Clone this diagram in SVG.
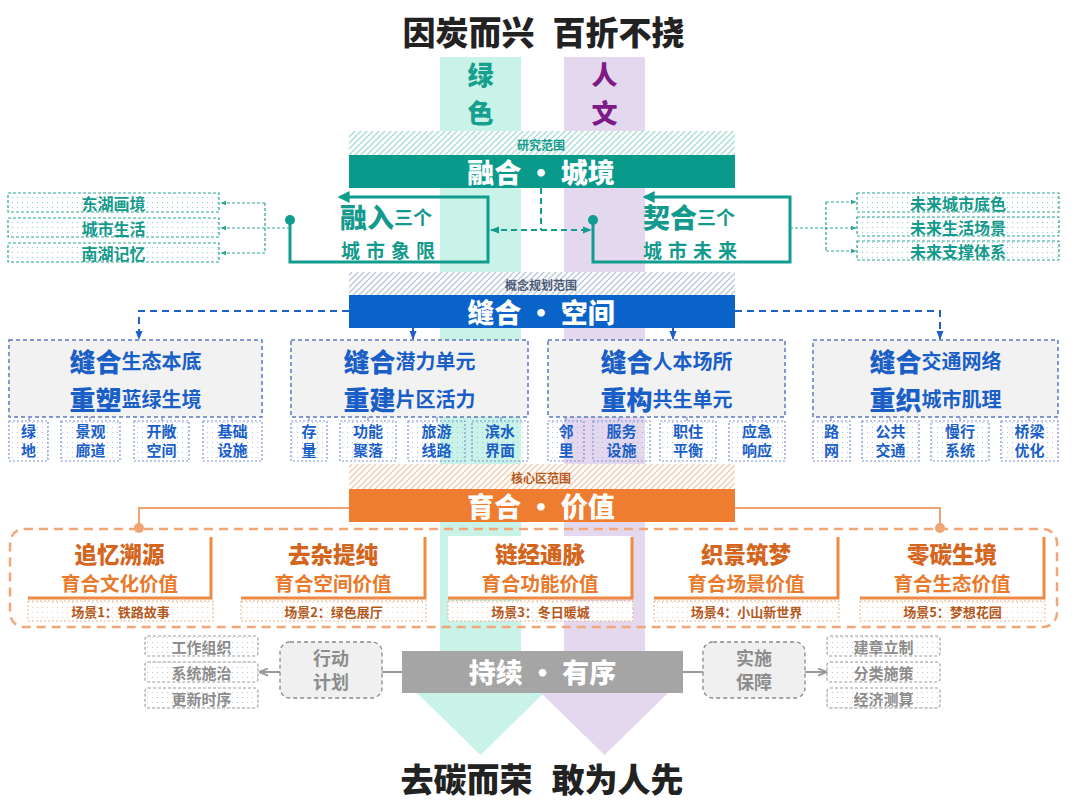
<svg xmlns="http://www.w3.org/2000/svg" width="1080" height="809" viewBox="0 0 1080 809">
<style>
.t{font-family:"Noto Sans CJK SC","Noto Sans",sans-serif;}
.c{text-anchor:middle;dominant-baseline:central;}
.h{font-weight:900;}
.b{font-weight:700;}
.bar{fill:#fff;font-size:27px;font-weight:900;}
.teal{fill:#149a8c;}
.blue{fill:#1a5fc8;}
.grey{fill:#8c8c8c;}
.big{font-size:26px;font-weight:900;}
.sm{font-size:20px;font-weight:700;}
.otitle{fill:#d4651d;font-size:22.5px;font-weight:900;}
.osub{fill:#e9792b;font-size:19.5px;font-weight:700;}
.oscene{fill:#b5581c;font-size:13px;font-weight:700;}
.tlist{fill:url(#dotsTeal);stroke:#2aa596;stroke-width:1.2;stroke-dasharray:3 2;}
.bmain{fill:#f2f2f2;stroke:#5b78c6;stroke-width:1.5;stroke-dasharray:4 3;}
.bsub{fill:url(#dotsBlue);stroke:#7d93d0;stroke-width:1.2;stroke-dasharray:2 2;}
.tick{stroke:#7d93d0;stroke-width:1.2;}
.oscn{fill:url(#dotsOrange);stroke:#e7b48f;stroke-width:1;stroke-dasharray:2 2;}
.card{fill:#fff;}
.cl{fill:none;stroke:#ef8a45;stroke-width:3;}
.glist{fill:url(#dotsGrey);stroke:#9a9a9a;stroke-width:1.1;stroke-dasharray:3 2;}
.gbox{fill:#f0f0f0;stroke:#8a8a8a;stroke-width:1.3;stroke-dasharray:4 3;}
.sub{font-size:15px;font-weight:700;fill:#1a5fc8;text-anchor:middle;}
</style>
<defs>
<pattern id="hatchTeal" patternUnits="userSpaceOnUse" width="6" height="6">
<rect width="6" height="6" fill="#fff"/>
<path d="M-1,1 l2,-2 M0,6 l6,-6 M5,7 l2,-2" stroke="#a6dcd4" stroke-width="1.3"/>
</pattern>
<pattern id="hatchBlue" patternUnits="userSpaceOnUse" width="6" height="6">
<rect width="6" height="6" fill="#fff"/>
<path d="M-1,1 l2,-2 M0,6 l6,-6 M5,7 l2,-2" stroke="#b9c6d8" stroke-width="1.3"/>
</pattern>
<pattern id="hatchOrange" patternUnits="userSpaceOnUse" width="6" height="6">
<rect width="6" height="6" fill="#fff"/>
<path d="M-1,1 l2,-2 M0,6 l6,-6 M5,7 l2,-2" stroke="#f3c9a8" stroke-width="1.3"/>
</pattern>
<pattern id="dotsTeal" patternUnits="userSpaceOnUse" width="5" height="5">
<rect width="5" height="5" fill="#fff"/>
<circle cx="2.5" cy="2.5" r="0.6" fill="#7cc8bd"/>
</pattern>
<pattern id="dotsBlue" patternUnits="userSpaceOnUse" width="5" height="5">
<circle cx="2.5" cy="2.5" r="0.6" fill="#a9b8e0"/>
</pattern>
<pattern id="dotsOrange" patternUnits="userSpaceOnUse" width="5" height="5">
<rect width="5" height="5" fill="#fff"/>
<circle cx="2.5" cy="2.5" r="0.6" fill="#efc3a3"/>
</pattern>
<pattern id="dotsGrey" patternUnits="userSpaceOnUse" width="5" height="5">
<rect width="5" height="5" fill="#fff"/>
<circle cx="2.5" cy="2.5" r="0.6" fill="#c4c4c4"/>
</pattern>
<marker id="aTealBig" viewBox="0 0 10 10" refX="8" refY="5" markerUnits="userSpaceOnUse" markerWidth="12" markerHeight="12" orient="auto">
<path d="M0,0 L10,5 L0,10 z" fill="#109c8e"/>
</marker>
<marker id="aTeal" viewBox="0 0 10 10" refX="9" refY="5" markerUnits="userSpaceOnUse" markerWidth="9" markerHeight="9" orient="auto-start-reverse">
<path d="M0,1 L10,5 L0,9 z" fill="#109c8e"/>
</marker>
<marker id="aTealS" viewBox="0 0 10 10" refX="9" refY="5" markerUnits="userSpaceOnUse" markerWidth="6" markerHeight="6" orient="auto">
<path d="M0,1 L10,5 L0,9 z" fill="#2aa596"/>
</marker>
<marker id="aBlue" viewBox="0 0 10 10" refX="9" refY="5" markerUnits="userSpaceOnUse" markerWidth="9" markerHeight="9" orient="auto">
<path d="M0,1 L10,5 L0,9 z" fill="#1f5fc6"/>
</marker>
<marker id="aGrey" viewBox="0 0 10 10" refX="9" refY="5" markerUnits="userSpaceOnUse" markerWidth="9" markerHeight="9" orient="auto">
<path d="M0,1 L10,5 L0,9" fill="none" stroke="#9a9a9a" stroke-width="2"/>
</marker>
</defs>

<rect width="1080" height="809" fill="#fff"/>

<g id="columns">
<rect x="440" y="57" width="81" height="640" fill="#c9f3e9"/>
<polygon points="416,692 545,692 480.5,755" fill="#c9f3e9"/>
<rect x="564" y="57" width="81" height="640" fill="#e4d8ee"/>
<polygon points="540,692 669,692 604.5,755" fill="#e4d8ee"/>
<text class="t c h" x="480.5" y="73" font-size="26" fill="#17a08f">绿</text>
<text class="t c h" x="480.5" y="111" font-size="26" fill="#17a08f">色</text>
<text class="t c h" x="604.5" y="73" font-size="26" fill="#7d1a86">人</text>
<text class="t c h" x="604.5" y="111" font-size="26" fill="#7d1a86">文</text>
</g>

<g id="title-top">
<text class="t c h" x="468.5" y="31" font-size="33" fill="#222">因炭而兴</text>
<text class="t c h" x="618.5" y="31" font-size="33" fill="#222">百折不挠</text>
</g>

<g id="title-bottom">
<text class="t c h" x="466.5" y="778" font-size="33" fill="#222">去碳而荣</text>
<text class="t c h" x="617.5" y="778" font-size="33" fill="#222">敢为人先</text>
</g>

<g id="connectors">
<path d="M290,220 V262 H488 V197 H340" fill="none" stroke="#109c8e" stroke-width="3" marker-end="url(#aTealBig)"/>
<circle cx="290" cy="220" r="5" fill="#109c8e"/>
<path d="M593,220 V262 H790 V197 H645" fill="none" stroke="#109c8e" stroke-width="3" marker-end="url(#aTealBig)"/>
<circle cx="593" cy="220" r="5" fill="#109c8e"/>
<path d="M541,188 V230" fill="none" stroke="#109c8e" stroke-width="2" stroke-dasharray="6 4"/>
<path d="M491,230 H591" fill="none" stroke="#109c8e" stroke-width="2" stroke-dasharray="6 4" marker-start="url(#aTeal)" marker-end="url(#aTeal)"/>
<g fill="none" stroke="#2aa596" stroke-width="1.2" stroke-dasharray="3 2">
<path d="M290,228 H221" marker-end="url(#aTealS)"/>
<path d="M265,203 V253"/>
<path d="M265,203 H221" marker-end="url(#aTealS)"/>
<path d="M265,253 H221" marker-end="url(#aTealS)"/>
<path d="M790,228 H856" marker-end="url(#aTealS)"/>
<path d="M826,202 V251"/>
<path d="M826,202 H856" marker-end="url(#aTealS)"/>
<path d="M826,251 H856" marker-end="url(#aTealS)"/>
</g>
<g fill="none" stroke="#1f5fc6" stroke-width="2">
<path d="M349,311 H139 V339" stroke-dasharray="7 5" marker-end="url(#aBlue)"/>
<path d="M735,311 H940 V339" stroke-dasharray="7 5" marker-end="url(#aBlue)"/>
<path d="M413,328 V339" marker-end="url(#aBlue)"/>
<path d="M673,328 V339" marker-end="url(#aBlue)"/>
</g>
<g fill="none" stroke="#f0a272" stroke-width="2">
<path d="M349,508 H139 V528"/>
<path d="M735,508 H940 V528"/>
</g>
<circle cx="139" cy="528" r="5" fill="#f0a272"/>
<circle cx="940" cy="528" r="5" fill="#f0a272"/>
<g fill="none" stroke="#9a9a9a" stroke-width="2">
<path d="M402,672 H382"/>
<path d="M683,672 H703"/>
<path d="M280,672 H260" marker-end="url(#aGrey)"/>
<path d="M805,672 H826" marker-end="url(#aGrey)"/>
</g>
</g>

<g id="teal-section">
<rect x="349" y="131" width="386" height="24" fill="url(#hatchTeal)"/>
<text class="t c b" x="541" y="144" font-size="12" fill="#149a8c">研究范围</text>
<rect x="349" y="155" width="386" height="33" fill="#0a9a8c"/>
<text class="t c bar" x="541" y="171.5">融合 · 城境</text>
</g>

<g id="node-rongru">
<text class="t teal" x="340" y="215.5" dominant-baseline="central"><tspan font-size="27" font-weight="900">融入</tspan><tspan font-size="19" font-weight="700">三个</tspan></text>
<text class="t teal b" x="341" y="249" dominant-baseline="central" font-size="19" letter-spacing="6">城市象限</text>
</g>
<g id="node-qihe">
<text class="t teal" x="643" y="215.5" dominant-baseline="central"><tspan font-size="27" font-weight="900">契合</tspan><tspan font-size="19" font-weight="700">三个</tspan></text>
<text class="t teal b" x="643" y="249" dominant-baseline="central" font-size="19" letter-spacing="6">城市未来</text>
</g>

<g id="list-left">
<rect class="tlist" x="8" y="193" width="211" height="19"/>
<rect class="tlist" x="8" y="218" width="211" height="19"/>
<rect class="tlist" x="8" y="243" width="211" height="19"/>
<text class="t c b teal" x="113.5" y="202.5" font-size="16">东湖画境</text>
<text class="t c b teal" x="113.5" y="227.5" font-size="16">城市生活</text>
<text class="t c b teal" x="113.5" y="252.5" font-size="16">南湖记忆</text>
</g>
<g id="list-right">
<rect class="tlist" x="857" y="193" width="202" height="19"/>
<rect class="tlist" x="857" y="217" width="202" height="19"/>
<rect class="tlist" x="857" y="241" width="202" height="19"/>
<text class="t c b teal" x="958" y="202.5" font-size="16">未来城市底色</text>
<text class="t c b teal" x="958" y="226.5" font-size="16">未来生活场景</text>
<text class="t c b teal" x="958" y="250.5" font-size="16">未来支撑体系</text>
</g>

<g id="blue-section">
<rect x="349" y="272" width="386" height="23" fill="url(#hatchBlue)"/>
<text class="t c b" x="541" y="284" font-size="12" fill="#4d5b78">概念规划范围</text>
<rect x="349" y="295" width="386" height="33" fill="#0a63c9"/>
<text class="t c bar" x="541" y="311.5">缝合 · 空间</text>
</g>

<g id="node-blue-1">
<rect class="bmain" x="9" y="340" width="253" height="77"/>
<text class="t c blue" x="135.5" y="359.5"><tspan class="big">缝合</tspan><tspan class="sm">生态本底</tspan></text>
<text class="t c blue" x="135.5" y="397.5"><tspan class="big">重塑</tspan><tspan class="sm">蓝绿生境</tspan></text>
<path class="tick" d="M29,417 V421 M90,417 V421 M162,417 V421 M232,417 V421"/>
<rect class="bsub" x="9" y="421" width="39" height="40"/>
<rect class="bsub" x="61" y="421" width="59" height="40"/>
<rect class="bsub" x="134" y="421" width="55" height="40"/>
<rect class="bsub" x="203" y="421" width="59" height="40"/>
<g class="t">
<text class="sub"><tspan x="28.5" y="437">绿</tspan><tspan x="28.5" y="456">地</tspan></text>
<text class="sub"><tspan x="90.5" y="437">景观</tspan><tspan x="90.5" y="456">廊道</tspan></text>
<text class="sub"><tspan x="161.5" y="437">开敞</tspan><tspan x="161.5" y="456">空间</tspan></text>
<text class="sub"><tspan x="232.5" y="437">基础</tspan><tspan x="232.5" y="456">设施</tspan></text>
</g>
</g>

<g id="node-blue-2">
<rect class="bmain" x="291" y="340" width="237" height="77"/>
<text class="t c blue" x="409.5" y="359.5"><tspan class="big">缝合</tspan><tspan class="sm">潜力单元</tspan></text>
<text class="t c blue" x="409.5" y="397.5"><tspan class="big">重建</tspan><tspan class="sm">片区活力</tspan></text>
<path class="tick" d="M309,417 V421 M368,417 V421 M437,417 V421 M501,417 V421"/>
<rect class="bsub" x="291" y="421" width="36" height="40"/>
<rect class="bsub" x="340" y="421" width="56" height="40"/>
<rect class="bsub" x="408" y="421" width="57" height="40"/>
<rect class="bsub" x="472" y="421" width="56" height="40"/>
<g class="t">
<text class="sub"><tspan x="309" y="437">存</tspan><tspan x="309" y="456">量</tspan></text>
<text class="sub"><tspan x="368" y="437">功能</tspan><tspan x="368" y="456">聚落</tspan></text>
<text class="sub"><tspan x="436.5" y="437">旅游</tspan><tspan x="436.5" y="456">线路</tspan></text>
<text class="sub"><tspan x="500" y="437">滨水</tspan><tspan x="500" y="456">界面</tspan></text>
</g>
</g>

<g id="node-blue-3">
<rect class="bmain" x="548" y="340" width="237" height="77"/>
<text class="t c blue" x="666.5" y="359.5"><tspan class="big">缝合</tspan><tspan class="sm">人本场所</tspan></text>
<text class="t c blue" x="666.5" y="397.5"><tspan class="big">重构</tspan><tspan class="sm">共生单元</tspan></text>
<path class="tick" d="M566,417 V421 M619,417 V421 M687,417 V421 M753,417 V421"/>
<rect class="bsub" x="548" y="421" width="36" height="40"/>
<rect class="bsub" x="593" y="421" width="57" height="40"/>
<rect class="bsub" x="660" y="421" width="56" height="40"/>
<rect class="bsub" x="729" y="421" width="56" height="40"/>
<g class="t">
<text class="sub"><tspan x="566" y="437">邻</tspan><tspan x="566" y="456">里</tspan></text>
<text class="sub"><tspan x="621.5" y="437">服务</tspan><tspan x="621.5" y="456">设施</tspan></text>
<text class="sub"><tspan x="688" y="437">职住</tspan><tspan x="688" y="456">平衡</tspan></text>
<text class="sub"><tspan x="757" y="437">应急</tspan><tspan x="757" y="456">响应</tspan></text>
</g>
</g>

<g id="node-blue-4">
<rect class="bmain" x="813" y="340" width="245" height="77"/>
<text class="t c blue" x="935.5" y="359.5"><tspan class="big">缝合</tspan><tspan class="sm">交通网络</tspan></text>
<text class="t c blue" x="935.5" y="397.5"><tspan class="big">重织</tspan><tspan class="sm">城市肌理</tspan></text>
<path class="tick" d="M831,417 V421 M890,417 V421 M960,417 V421 M1029,417 V421"/>
<rect class="bsub" x="813" y="421" width="37" height="40"/>
<rect class="bsub" x="862" y="421" width="57" height="40"/>
<rect class="bsub" x="931" y="421" width="58" height="40"/>
<rect class="bsub" x="1001" y="421" width="57" height="40"/>
<g class="t">
<text class="sub"><tspan x="831.5" y="437">路</tspan><tspan x="831.5" y="456">网</tspan></text>
<text class="sub"><tspan x="890.5" y="437">公共</tspan><tspan x="890.5" y="456">交通</tspan></text>
<text class="sub"><tspan x="960" y="437">慢行</tspan><tspan x="960" y="456">系统</tspan></text>
<text class="sub"><tspan x="1029.5" y="437">桥梁</tspan><tspan x="1029.5" y="456">优化</tspan></text>
</g>
</g>

<g id="orange-section">
<rect x="349" y="464" width="386" height="25" fill="url(#hatchOrange)"/>
<text class="t c b" x="541" y="477" font-size="12" fill="#b85a20">核心区范围</text>
<rect x="349" y="489" width="386" height="33" fill="#ee7d31"/>
<text class="t c bar" x="541" y="505.5">育合 · 价值</text>
<rect x="10" y="529" width="1047" height="98" rx="14" fill="none" stroke="#f2a679" stroke-width="2.5" stroke-dasharray="9 6"/>
</g>

<g id="card-1">
<rect class="card" x="28" y="536" width="183" height="63"/>
<path class="cl" d="M211,537 V598 H28"/>
<text class="t c otitle" x="119.5" y="552.5">追忆溯源</text>
<text class="t c osub" x="119.5" y="582">育合文化价值</text>
<rect class="oscn" x="28" y="601" width="185" height="20"/>
<text class="t c oscene" x="120.5" y="611">场景1：铁路故事</text>
</g>
<g id="card-2">
<rect class="card" x="241" y="536" width="184" height="63"/>
<path class="cl" d="M425,537 V598 H241"/>
<text class="t c otitle" x="333" y="552.5">去杂提纯</text>
<text class="t c osub" x="333" y="582">育合空间价值</text>
<rect class="oscn" x="241" y="601" width="185" height="20"/>
<text class="t c oscene" x="333.5" y="611">场景2：绿色展厅</text>
</g>
<g id="card-3">
<rect class="card" x="448" y="536" width="184" height="63"/>
<path class="cl" d="M632,537 V598 H448"/>
<text class="t c otitle" x="540" y="552.5">链经通脉</text>
<text class="t c osub" x="540" y="582">育合功能价值</text>
<rect class="oscn" x="448" y="601" width="185" height="20"/>
<text class="t c oscene" x="540.5" y="611">场景3：冬日暖城</text>
</g>
<g id="card-4">
<rect class="card" x="654" y="536" width="184" height="63"/>
<path class="cl" d="M838,537 V598 H654"/>
<text class="t c otitle" x="746" y="552.5">织景筑梦</text>
<text class="t c osub" x="746" y="582">育合场景价值</text>
<rect class="oscn" x="654" y="601" width="185" height="20"/>
<text class="t c oscene" x="746.5" y="611">场景4：小山新世界</text>
</g>
<g id="card-5">
<rect class="card" x="860" y="536" width="184" height="63"/>
<path class="cl" d="M1044,537 V598 H860"/>
<text class="t c otitle" x="952" y="552.5">零碳生境</text>
<text class="t c osub" x="952" y="582">育合生态价值</text>
<rect class="oscn" x="860" y="601" width="185" height="20"/>
<text class="t c oscene" x="952.5" y="611">场景5：梦想花园</text>
</g>

<g id="grey-bar">
<rect x="402" y="651" width="281" height="42" fill="#a5a5a5"/>
<text class="t c bar" x="542.5" y="671">持续 · 有序</text>
</g>

<g id="node-action">
<rect class="gbox" x="280" y="642" width="102" height="56" rx="10"/>
<text class="t b grey" text-anchor="middle" font-size="18"><tspan x="331" y="665">行动</tspan><tspan x="331" y="689">计划</tspan></text>
</g>
<g id="list-action">
<rect class="glist" x="145" y="636" width="113" height="20" rx="3"/>
<rect class="glist" x="145" y="662" width="113" height="20" rx="3"/>
<rect class="glist" x="145" y="688" width="113" height="20" rx="3"/>
<text class="t c b grey" x="201.5" y="646" font-size="15">工作组织</text>
<text class="t c b grey" x="201.5" y="672" font-size="15">系统施治</text>
<text class="t c b grey" x="201.5" y="698" font-size="15">更新时序</text>
</g>
<g id="node-guarantee">
<rect class="gbox" x="703" y="642" width="102" height="56" rx="10"/>
<text class="t b grey" text-anchor="middle" font-size="18"><tspan x="754" y="665">实施</tspan><tspan x="754" y="689">保障</tspan></text>
</g>
<g id="list-guarantee">
<rect class="glist" x="827" y="636" width="113" height="20" rx="3"/>
<rect class="glist" x="827" y="662" width="113" height="20" rx="3"/>
<rect class="glist" x="827" y="688" width="113" height="20" rx="3"/>
<text class="t c b grey" x="883.5" y="646" font-size="15">建章立制</text>
<text class="t c b grey" x="883.5" y="672" font-size="15">分类施策</text>
<text class="t c b grey" x="883.5" y="698" font-size="15">经济测算</text>
</g>
</svg>
